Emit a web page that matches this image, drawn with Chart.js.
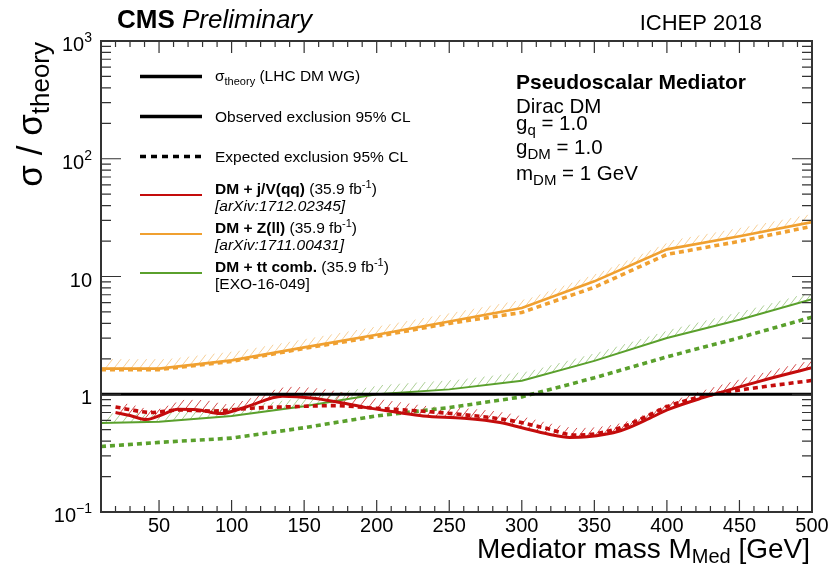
<!DOCTYPE html>
<html>
<head>
<meta charset="utf-8">
<script src="https://cdn.jsdelivr.net/npm/chart.js@4.4.1/dist/chart.umd.min.js"></script>
<style>
  html, body { margin: 0; padding: 0; background: #fff; }
  #wrap { width: 837px; height: 568px; }
</style>
</head>
<body>
<div id="wrap"><canvas id="limits" width="837" height="568"></canvas></div>
<script>
// ----- values read off the CMS ICHEP 2018 pseudoscalar summary plot -----
// x = mediator mass [GeV], y = sigma / sigma_theory

// DM + j/V(qq)
const jvObsMass = [20, 30, 41, 52, 63, 76, 92, 110, 135, 155, 175, 193, 215, 232, 260, 285, 300, 318, 333, 345, 368, 385, 402, 425, 465, 500];
const jvObs     = [0.70, 0.66, 0.61, 0.67, 0.745, 0.74, 0.685, 0.78, 0.96, 0.93, 0.85, 0.77, 0.70, 0.655, 0.625, 0.575, 0.52, 0.46, 0.43, 0.435, 0.49, 0.60, 0.75, 0.935, 1.30, 1.68];
const jvExpMass = [20, 30, 44, 64, 87, 113, 150, 170, 200, 230, 260, 292, 315, 337, 350, 368, 385, 402, 432, 465, 500];
const jvExp     = [0.78, 0.74, 0.70, 0.735, 0.72, 0.76, 0.79, 0.80, 0.76, 0.72, 0.67, 0.60, 0.52, 0.45, 0.46, 0.52, 0.64, 0.80, 1.00, 1.15, 1.31];

// DM + Z(ll)
const zllMass = [10, 50, 100, 150, 200, 250, 300, 350, 400, 450, 500];
const zllObs  = [1.65, 1.65, 1.94, 2.50, 3.20, 4.15, 5.40, 9.10, 17.0, 22.0, 29.0];
const zllExp  = [1.62, 1.62, 1.90, 2.45, 3.10, 4.00, 4.95, 8.10, 15.4, 19.9, 26.7];

// DM + tt comb.
const ttMass = [10, 50, 100, 150, 200, 250, 300, 350, 400, 450, 500];
const ttObs  = [0.57, 0.585, 0.655, 0.79, 1.00, 1.10, 1.30, 1.92, 3.00, 4.30, 6.40];
const ttExp  = [0.36, 0.39, 0.424, 0.52, 0.655, 0.77, 0.95, 1.38, 2.08, 3.02, 4.52];

// sigma_theory reference
const theoryMass = [10, 500];
const theoryVal  = [1, 1];

// axis ticks
const xTickLabels = [50, 100, 150, 200, 250, 300, 350, 400, 450, 500];
const yDecades = [0.1, 1, 10, 100, 1000];
const yTickLabels = [["10", "\u22121"], ["1", ""], ["10", ""], ["10", "2"], ["10", "3"]];

const RED = "#c40c0c", ORANGE = "#f0a030", GREEN = "#5aa02c";
const FONT = '"Liberation Sans", Arial, Helvetica, sans-serif';

function pairs(xs, ys) {
    return xs.map((x, i) => ({ x: x, y: ys[i] }));
}

// ----- small text helper: parts = [{t, size, style, dy}] -----
function richWidth(ctx, parts) {
    let w = 0;
    parts.forEach(p => {
        ctx.font = (p.style || "") + " " + p.size + "px " + FONT;
        w += ctx.measureText(p.t).width;
    });
    return w;
}

function drawRich(ctx, x, y, parts, align) {
    let cx = align === "right" ? x - richWidth(ctx, parts) : x;
    parts.forEach(p => {
        ctx.font = (p.style || "") + " " + p.size + "px " + FONT;
        ctx.fillText(p.t, cx, y + (p.dy || 0));
        cx += ctx.measureText(p.t).width;
    });
}

// ----- hatching on the excluded side of each observed curve -----
const hatchPlugin = {
    id: "hatch",
    beforeDatasetsDraw(chart) {
        const ctx = chart.ctx, area = chart.chartArea;
        ctx.save();
        ctx.beginPath();
        ctx.rect(area.left, area.top, area.right - area.left, area.bottom - area.top);
        ctx.clip();
        chart.data.datasets.forEach((ds, i) => {
            if (!ds.hatch) return;
            const pts = chart.getDatasetMeta(i).data;
            // dense polyline following the drawn (possibly curved) line
            const poly = [];
            for (let k = 0; k < pts.length - 1; k++) {
                const a = pts[k], b = pts[k + 1];
                const c1x = a.cp2x ?? a.x, c1y = a.cp2y ?? a.y;
                const c2x = b.cp1x ?? b.x, c2y = b.cp1y ?? b.y;
                for (let s = 0; s < 16; s++) {
                    const t = s / 16, u = 1 - t;
                    poly.push([
                        u * u * u * a.x + 3 * u * u * t * c1x + 3 * u * t * t * c2x + t * t * t * b.x,
                        u * u * u * a.y + 3 * u * u * t * c1y + 3 * u * t * t * c2y + t * t * t * b.y
                    ]);
                }
            }
            const last = pts[pts.length - 1];
            poly.push([last.x, last.y]);

            ctx.strokeStyle = ds.hatch;
            ctx.lineWidth = 1;
            ctx.beginPath();
            const gap = 8.5, len = 12, ang = 52 * Math.PI / 180;
            let acc = gap / 2;
            for (let k = 0; k < poly.length - 1; k++) {
                const [x0, y0] = poly[k], [x1, y1] = poly[k + 1];
                const seg = Math.hypot(x1 - x0, y1 - y0);
                let d = acc;
                while (d < seg) {
                    const hx = x0 + (x1 - x0) * d / seg, hy = y0 + (y1 - y0) * d / seg;
                    ctx.moveTo(hx, hy);
                    ctx.lineTo(hx + len * Math.cos(ang), hy - len * Math.sin(ang));
                    d += gap;
                }
                acc = d - seg;
            }
            ctx.stroke();
        });
        ctx.restore();
    }
};

// ----- ROOT-like frame, inside ticks, labels, legend and captions -----
const framePlugin = {
    id: "rootFrame",
    afterDraw(chart) {
        const ctx = chart.ctx, a = chart.chartArea;
        const xs = chart.scales.x, ys = chart.scales.y;
        ctx.save();

        // ticks
        ctx.strokeStyle = "#333";
        ctx.lineWidth = 1.2;
        ctx.beginPath();
        for (let v = 10; v <= 500; v += 10) {
            const px = xs.getPixelForValue(v);
            const L = (v % 50 === 0) ? 12 : 6;
            ctx.moveTo(px, a.bottom); ctx.lineTo(px, a.bottom - L);
            ctx.moveTo(px, a.top); ctx.lineTo(px, a.top + L);
        }
        yDecades.forEach(d => {
            for (let m = 1; m <= 9; m++) {
                const v = d * m;
                if (v > 1000.0001) break;
                const py = ys.getPixelForValue(v);
                const L = m === 1 ? 20 : 10;
                ctx.moveTo(a.left, py); ctx.lineTo(a.left + L, py);
                ctx.moveTo(a.right, py); ctx.lineTo(a.right - L, py);
            }
        });
        ctx.stroke();

        // frame
        ctx.lineWidth = 2;
        ctx.strokeStyle = "#333";
        ctx.strokeRect(a.left, a.top, a.right - a.left, a.bottom - a.top);

        ctx.fillStyle = "#000";
        // x tick labels
        ctx.textAlign = "center";
        ctx.textBaseline = "alphabetic";
        ctx.font = "20px " + FONT;
        xTickLabels.forEach(v => {
            ctx.fillText(String(v), xs.getPixelForValue(v), a.bottom + 20);
        });

        // y tick labels
        ctx.textAlign = "left";
        yDecades.forEach((v, i) => {
            const py = ys.getPixelForValue(v);
            const [base, sup] = yTickLabels[i];
            const parts = [{ t: base, size: 20, dy: 0 }];
            if (sup) parts.push({ t: sup, size: 14, dy: -9 });
            drawRich(ctx, 92, py + 10, parts, "right");
        });

        // x title
        drawRich(ctx, 810, 558, [
            { t: "Mediator mass M", size: 28 },
            { t: "Med", size: 20, dy: 5 },
            { t: " [GeV]", size: 28 }
        ], "right");

        // y title (rotated, right-aligned to the top of the frame)
        ctx.save();
        ctx.translate(42, 42);
        ctx.rotate(-Math.PI / 2);
        drawRich(ctx, 0, 0, [
            { t: "\u03c3 / \u03c3", size: 35 },
            { t: "theory", size: 26, dy: 7 }
        ], "right");
        ctx.restore();

        // header
        drawRich(ctx, 117, 28, [
            { t: "CMS", size: 26, style: "bold" },
            { t: " Preliminary", size: 26, style: "italic" }
        ]);
        drawRich(ctx, 762, 30, [{ t: "ICHEP 2018", size: 22 }], "right");

        // legend
        function sample(y, color, width, dash) {
            ctx.save();
            ctx.strokeStyle = color;
            ctx.lineWidth = width;
            ctx.setLineDash(dash || []);
            ctx.beginPath();
            ctx.moveTo(140, y); ctx.lineTo(202, y);
            ctx.stroke();
            ctx.restore();
        }
        const LS = 15.5, SS = 11;
        sample(76.5, "#000", 3.5);
        drawRich(ctx, 215, 80.5, [
            { t: "\u03c3", size: LS }, { t: "theory", size: SS, dy: 4 }, { t: " (LHC DM WG)", size: LS }
        ]);
        sample(116.5, "#000", 3.5);
        drawRich(ctx, 215, 122, [{ t: "Observed exclusion 95% CL", size: LS }]);
        sample(156.5, "#000", 3.5, [6, 5]);
        drawRich(ctx, 215, 162, [{ t: "Expected exclusion 95% CL", size: LS }]);

        const entries = [
            { y: 195, color: RED, name: "DM + j/V(qq)", ref: "[arXiv:1712.02345]", refStyle: "italic" },
            { y: 234, color: ORANGE, name: "DM + Z(ll)", ref: "[arXiv:1711.00431]", refStyle: "italic" },
            { y: 273, color: GREEN, name: "DM + tt comb.", ref: "[EXO-16-049]", refStyle: "" }
        ];
        entries.forEach(e => {
            sample(e.y, e.color, 2.2);
            drawRich(ctx, 215, e.y - 1.5, [
                { t: e.name, size: LS, style: "bold" },
                { t: " (35.9 fb", size: LS },
                { t: "-1", size: SS, dy: -6 },
                { t: ")", size: LS }
            ]);
            drawRich(ctx, 215, e.y + 15.5, [{ t: e.ref, size: LS, style: e.refStyle }]);
        });

        // model caption
        drawRich(ctx, 516, 88.5, [{ t: "Pseudoscalar Mediator", size: 21, style: "bold" }]);
        drawRich(ctx, 516, 112.5, [{ t: "Dirac DM", size: 20.5 }]);
        drawRich(ctx, 516, 130, [{ t: "g", size: 20.5 }, { t: "q", size: 15, dy: 5 }, { t: " = 1.0", size: 20.5 }]);
        drawRich(ctx, 516, 153.5, [{ t: "g", size: 20.5 }, { t: "DM", size: 15, dy: 5 }, { t: " = 1.0", size: 20.5 }]);
        drawRich(ctx, 516, 180, [{ t: "m", size: 20.5 }, { t: "DM", size: 15, dy: 5 }, { t: " = 1 GeV", size: 20.5 }]);

        ctx.restore();
    }
};

new Chart(document.getElementById("limits"), {
    type: "line",
    data: {
        datasets: [
            { label: "sigma_theory", data: pairs(theoryMass, theoryVal),
              borderColor: "#000", borderWidth: 3.2, order: 0 },
            { label: "j/V(qq) obs", data: pairs(jvObsMass, jvObs), hatch: "rgba(196,12,12,0.75)",
              borderColor: RED, borderWidth: 3, cubicInterpolationMode: "monotone", order: 2 },
            { label: "j/V(qq) exp", data: pairs(jvExpMass, jvExp),
              borderColor: RED, borderWidth: 3.6, borderDash: [5, 4], cubicInterpolationMode: "monotone", order: 1 },
            { label: "Z(ll) obs", data: pairs(zllMass, zllObs), hatch: "rgba(240,160,48,0.5)",
              borderColor: ORANGE, borderWidth: 2.6, order: 4 },
            { label: "Z(ll) exp", data: pairs(zllMass, zllExp),
              borderColor: ORANGE, borderWidth: 3.6, borderDash: [5, 4], order: 3 },
            { label: "tt obs", data: pairs(ttMass, ttObs), hatch: "rgba(90,160,44,0.5)",
              borderColor: GREEN, borderWidth: 2, order: 6 },
            { label: "tt exp", data: pairs(ttMass, ttExp),
              borderColor: GREEN, borderWidth: 3.6, borderDash: [5, 4], order: 5 }
        ]
    },
    options: {
        responsive: false,
        animation: false,
        layout: { padding: { left: 0, right: 25, top: 41, bottom: 0 } },
        plugins: { legend: { display: false }, tooltip: { enabled: false } },
        elements: { point: { radius: 0, hoverRadius: 0 }, line: { borderCapStyle: "butt", fill: false } },
        scales: {
            x: {
                type: "linear", min: 10, max: 500,
                grid: { display: false }, border: { display: false },
                ticks: { display: false },
                afterFit: s => { s.height = 56; }
            },
            y: {
                type: "logarithmic", min: 0.1, max: 1000,
                grid: { display: false }, border: { display: false },
                ticks: { display: false },
                afterFit: s => { s.width = 101; }
            }
        }
    },
    plugins: [hatchPlugin, framePlugin]
});
</script>
</body>
</html>
